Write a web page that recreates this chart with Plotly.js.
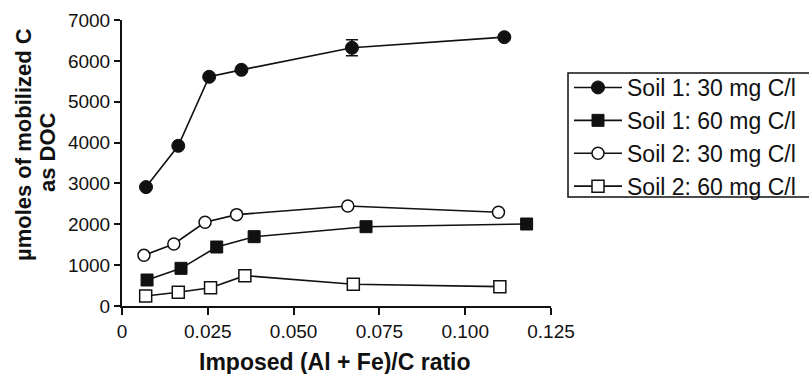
<!DOCTYPE html>
<html>
<head>
<meta charset="utf-8">
<script src="https://cdn.plot.ly/plotly-3.0.1.min.js"></script>
<style>html,body{margin:0;padding:0;background:#fff;}#chart{width:809px;height:374px;}</style>
</head>
<body>
<div id="chart"></div>
<script>
// Data
const seriesNames = ["Soil 1: 30 mg C/l", "Soil 1: 60 mg C/l", "Soil 2: 30 mg C/l", "Soil 2: 60 mg C/l"];
const soil1_30_x = [0.0070, 0.0164, 0.0254, 0.0348, 0.0670, 0.1114];
const soil1_30_y = [2910, 3920, 5610, 5780, 6320, 6580];
const soil1_30_err = [0, 0, 0, 0, 195, 0];
const soil1_60_x = [0.0073, 0.0172, 0.0276, 0.0385, 0.0711, 0.1179];
const soil1_60_y = [636, 922, 1444, 1697, 1941, 2007];
const soil2_30_x = [0.0064, 0.0151, 0.0242, 0.0334, 0.0658, 0.1097];
const soil2_30_y = [1240, 1517, 2048, 2236, 2447, 2293];
const soil2_60_x = [0.0069, 0.0164, 0.0258, 0.0358, 0.0674, 0.1101];
const soil2_60_y = [245, 335, 448, 742, 531, 473];
const xTickVals = [0, 0.025, 0.05, 0.075, 0.1, 0.125];
const xTickText = ["0", "0.025", "0.050", "0.075", "0.100", "0.125"];
const yTickVals = [0, 1000, 2000, 3000, 4000, 5000, 6000, 7000];

const FONT = "Liberation Sans, Arial, sans-serif";
const lineStyle = {color: "#111", width: 1.6};
const W = 429, H = 286, L = 122, T = 20;
const px = v => (v - L) / W;          // pixel x -> paper x
const py = v => (T + H - v) / H;      // pixel y -> paper y

const traces = [
  {x: soil1_30_x, y: soil1_30_y, name: seriesNames[0], mode: "lines+markers", line: lineStyle,
   marker: {symbol: "circle", size: 13, color: "#111", line: {color: "#111", width: 1}},
   error_y: {type: "data", array: soil1_30_err, visible: true, color: "#111", thickness: 1.6, width: 6}},
  {x: soil1_60_x, y: soil1_60_y, name: seriesNames[1], mode: "lines+markers", line: lineStyle,
   marker: {symbol: "square", size: 12, color: "#111", line: {color: "#111", width: 1}}},
  {x: soil2_30_x, y: soil2_30_y, name: seriesNames[2], mode: "lines+markers", line: lineStyle,
   marker: {symbol: "circle", size: 12, color: "#fff", line: {color: "#111", width: 1.5}}},
  {x: soil2_60_x, y: soil2_60_y, name: seriesNames[3], mode: "lines+markers", line: lineStyle,
   marker: {symbol: "square", size: 12, color: "#fff", line: {color: "#111", width: 1.5}}}
];

const layout = {
  width: 809, height: 374,
  margin: {l: 122, r: 258, t: 20, b: 68, autoexpand: false},
  paper_bgcolor: "#fff", plot_bgcolor: "#fff",
  font: {family: FONT, color: "#111", size: 19},
  showlegend: true,
  legend: {x: px(569), xanchor: "left", y: py(66), yanchor: "top",
           borderwidth: 0, bgcolor: "rgba(0,0,0,0)", itemwidth: 48,
           font: {family: FONT, size: 23, color: "#111"}, tracegroupgap: 0},
  shapes: [
    {type: "rect", xref: "paper", yref: "paper", x0: px(568), x1: px(815), y0: py(197), y1: py(73),
     line: {color: "#111", width: 1.5}, fillcolor: "rgba(0,0,0,0)", layer: "below"}
  ],
  xaxis: {range: [0, 0.125], tickvals: xTickVals, ticktext: xTickText,
          showline: true, linecolor: "#111", linewidth: 2, showgrid: false, zeroline: false,
          ticks: "outside", ticklen: 7, tickwidth: 2, tickcolor: "#111",
          tickfont: {family: FONT, size: 19, color: "#111"}, fixedrange: true},
  yaxis: {range: [0, 7000], tickvals: yTickVals,
          showline: true, linecolor: "#111", linewidth: 2, showgrid: false, zeroline: false,
          ticks: "outside", ticklen: 6, tickwidth: 2, tickcolor: "#111",
          tickfont: {family: FONT, size: 19, color: "#111"}, fixedrange: true},
  annotations: [
    {text: "<b>Imposed (Al + Fe)/C ratio</b>", xref: "paper", yref: "paper",
     x: px(335), y: py(362), xanchor: "center", yanchor: "middle", showarrow: false,
     font: {family: FONT, size: 23, color: "#111"}},
    {text: "<b>µmoles of mobilized C</b>", xref: "paper", yref: "paper",
     x: px(23), y: py(145), xanchor: "center", yanchor: "middle",
     textangle: -90, showarrow: false, font: {family: FONT, size: 22, color: "#111"}},
    {text: "<b>as DOC</b>", xref: "paper", yref: "paper",
     x: px(47), y: py(152), xanchor: "center", yanchor: "middle",
     textangle: -90, showarrow: false, font: {family: FONT, size: 22, color: "#111"}}
  ]
};

Plotly.newPlot("chart", traces, layout, {displayModeBar: false, staticPlot: true});
</script>
</body>
</html>
